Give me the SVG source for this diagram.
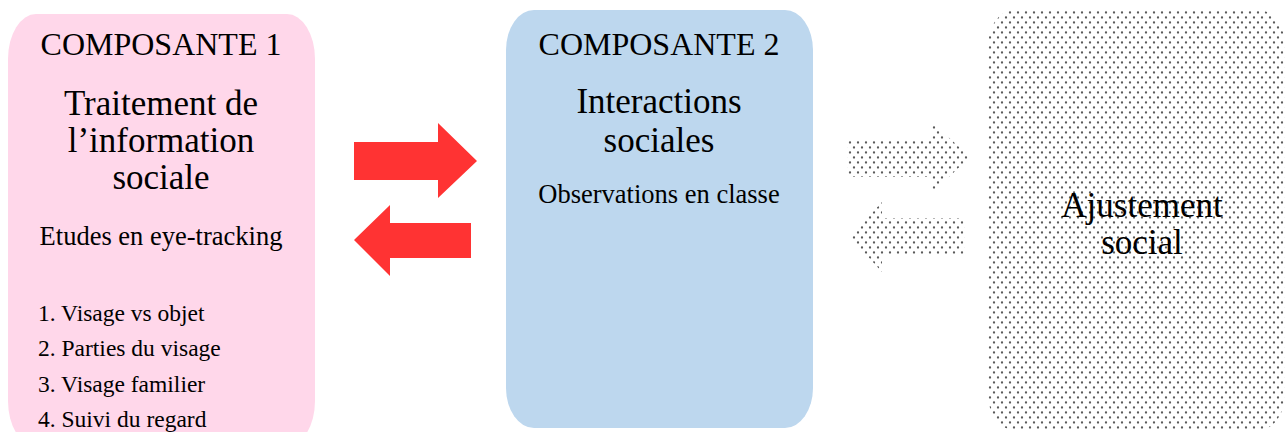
<svg xmlns="http://www.w3.org/2000/svg" width="1286" height="432" viewBox="0 0 1286 432">
<style>
text{font-family:"Liberation Serif","Times New Roman",serif;fill:#000;text-anchor:middle}
.t1{font-size:32px}
.t2{font-size:35px}
.t3{font-size:26.5px}
.li{font-size:23.5px;text-anchor:start}
.red{fill:#FF3333}
.dot{fill:url(#dots)}
</style>
<defs>
<pattern id="dots" width="8" height="10" patternUnits="userSpaceOnUse">
<rect width="8" height="10" fill="#fff"/>
<circle cx="2" cy="2.5" r="1.15" fill="#5a5a5a"/>
<circle cx="6" cy="7.5" r="1.15" fill="#5a5a5a"/>
</pattern>
</defs>
<rect width="1286" height="432" fill="#fff"/>
<g id="composante1">
<rect x="8" y="14" width="307" height="432" rx="28" ry="45" fill="#FFD7EA"/>
<text class="t1" x="161" y="55">COMPOSANTE 1</text>
<text class="t2" x="161" y="115">Traitement de</text>
<text class="t2" x="161" y="152">l’information</text>
<text class="t2" x="161" y="189">sociale</text>
<text class="t3" x="161" y="245">Etudes en eye-tracking</text>
<text class="li" x="38" y="321">1. Visage vs objet</text>
<text class="li" x="38" y="356">2. Parties du visage</text>
<text class="li" x="38" y="392">3. Visage familier</text>
<text class="li" x="38" y="427">4. Suivi du regard</text>
</g>
<g id="composante2">
<rect x="506" y="10" width="307" height="418" rx="28" ry="40" fill="#BDD7EE"/>
<text class="t1" x="659" y="55">COMPOSANTE 2</text>
<text class="t2" x="659" y="113">Interactions</text>
<text class="t2" x="659" y="152">sociales</text>
<text class="t3" x="659" y="203">Observations en classe</text>
</g>
<g id="ajustement">
<rect x="988" y="10" width="297" height="420" rx="26" ry="36" class="dot"/>
<text class="t2" x="1142" y="217">Ajustement</text>
<text class="t2" x="1142" y="254">social</text>
</g>
<g id="connectors">
<polygon class="red" points="354,142 438,142 438,123 477,161 438,198 438,180 354,180"/>
<polygon class="red" points="471,223 390,223 390,205 354,240 390,276 390,258 471,258"/>
<polygon class="dot" points="847,139 932,139 932,122 970,157 932,193 932,177 847,177"/>
<polygon class="dot" points="965,218 882,218 882,202 850,237 882,272 882,255 965,255"/>
</g>
</svg>
